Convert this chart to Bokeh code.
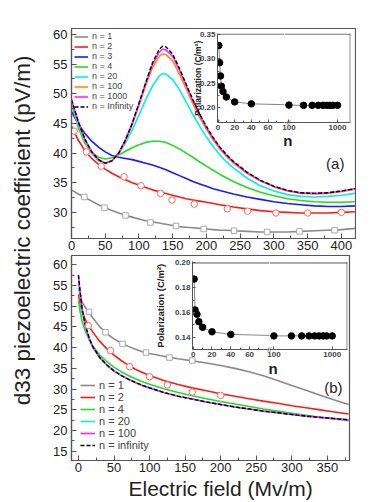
import numpy as np
from bokeh.plotting import figure
from bokeh.layouts import row, column
from bokeh.models import (Range1d, Label, FixedTicker, SingleIntervalTicker,
                          NumeralTickFormatter, Span, Title)
from bokeh.embed import file_html
from bokeh.resources import INLINE

FONT = "Liberation Sans"
AX = "#555555"

# ---------------- panel (a) data ----------------
xa = [0, 10, 20, 30, 40, 50, 60, 70, 80, 90, 100, 110, 120, 130, 135, 140, 150, 160, 170,
      180, 190, 200, 210, 220, 230, 240, 260, 280, 300, 320, 340, 360, 380, 400, 420]
a_n1 = [33.8, 33.1, 32.5, 31.9, 31.3, 30.8, 30.3, 29.9, 29.5, 29.2, 28.9, 28.6, 28.4, 28.2, 28.1,
        28.0, 27.8, 27.6, 27.5, 27.4, 27.3, 27.2, 27.1, 27.0, 27.0, 26.9, 26.8, 26.7, 26.7, 26.7,
        26.8, 26.9, 27.0, 27.1, 27.3]
a_n2 = [44.5, 42.2, 40.4, 39.1, 38.1, 37.3, 36.6, 36.0, 35.5, 35.0, 34.6, 34.2, 33.8, 33.5, 33.3,
        33.2, 32.9, 32.6, 32.3, 32.1, 31.9, 31.7, 31.5, 31.3, 31.1, 30.9, 30.6, 30.3, 30.1, 30.0,
        29.9, 29.9, 29.9, 30.0, 30.1]
a_n3 = [47.0, 44.9, 43.3, 42.0, 41.0, 40.2, 39.6, 39.3, 39.1, 38.9, 38.6, 38.3, 38.0, 37.6, 37.4,
        37.2, 36.7, 36.2, 35.7, 35.2, 34.8, 34.4, 34.0, 33.7, 33.4, 33.1, 32.6, 32.2, 31.8, 31.5,
        31.3, 31.1, 31.0, 31.0, 31.1]
a_n4 = [48.3, 44.3, 41.6, 40.1, 39.3, 39.0, 39.2, 39.7, 40.3, 40.9, 41.4, 41.8, 42.0, 42.0, 41.9,
        41.8, 41.3, 40.7, 40.0, 39.3, 38.5, 37.8, 37.1, 36.4, 35.8, 35.2, 34.2, 33.4, 32.8, 32.3,
        32.0, 31.8, 31.7, 31.7, 31.8]
a_n20 = [48.5, 44.8, 41.9, 39.9, 38.7, 38.3, 38.7, 39.9, 41.7, 43.9, 46.4, 49.0, 51.3, 53.0, 53.4,
         53.3, 52.4, 50.7, 48.6, 46.5, 44.5, 42.7, 41.1, 39.7, 38.5, 37.5, 35.8, 34.5, 33.6, 33.0,
         32.7, 32.6, 32.7, 32.9, 33.2]
a_n100 = [48.8, 45.2, 42.2, 40.1, 38.8, 38.3, 38.7, 40.0, 42.1, 44.8, 48.0, 51.4, 54.4, 56.3, 56.7,
          56.6, 55.5, 53.3, 50.8, 48.3, 46.0, 44.0, 42.2, 40.7, 39.4, 38.3, 36.6, 35.3, 34.3, 33.6,
          33.2, 33.1, 33.2, 33.5, 33.9]
a_n1000 = [49.0, 45.3, 42.3, 40.2, 38.9, 38.3, 38.7, 40.0, 42.2, 45.0, 48.3, 51.7, 54.9, 57.0, 57.5,
           57.4, 56.3, 54.0, 51.4, 48.8, 46.4, 44.3, 42.5, 40.9, 39.6, 38.5, 36.7, 35.4, 34.4, 33.7,
           33.3, 33.2, 33.3, 33.6, 34.0]
a_ninf = [49.0, 45.3, 42.3, 40.2, 38.9, 38.3, 38.7, 40.0, 42.2, 45.0, 48.4, 51.9, 55.2, 57.5, 58.0,
          57.9, 56.7, 54.3, 51.6, 49.0, 46.6, 44.5, 42.6, 41.0, 39.7, 38.6, 36.8, 35.4, 34.4, 33.7,
          33.3, 33.2, 33.3, 33.6, 34.0]
a_sq_x = [19, 49, 80, 117, 155, 196, 241, 290, 338, 390]
a_sq_y = [32.6, 30.8, 29.5, 28.3, 27.7, 27.2, 26.9, 26.7, 26.8, 27.0]
a_ci_x = [4, 22, 44, 78, 103, 132, 149, 182, 231, 261, 303, 350, 400]
a_ci_y = [43.7, 40.2, 37.8, 36.0, 34.5, 33.2, 32.1, 31.4, 30.6, 30.2, 29.9, 29.9, 30.0]

# inset (a)
ia_n = [1, 2, 3, 4, 6, 10, 20, 40, 100, 200, 300, 400, 500, 600, 700, 800, 1000]
ia_p = [0.327, 0.292, 0.265, 0.244, 0.233, 0.222, 0.212, 0.208, 0.2055, 0.205, 0.205, 0.205,
        0.205, 0.205, 0.205, 0.205, 0.205]

# ---------------- panel (b) data ----------------
xb = [0, 2, 5, 10, 15, 20, 30, 40, 50, 60, 70, 80, 90, 100, 120, 140, 160, 180, 200, 220, 240,
      260, 280, 300, 320, 340, 360, 380]
b_n1 = [54.5, 53.0, 51.0, 49.6, 48.4, 47.2, 45.0, 43.4, 42.1, 41.1, 40.3, 39.6, 39.0, 38.6, 37.9,
        37.3, 36.8, 36.3, 35.7, 35.0, 34.2, 33.2, 32.1, 30.9, 29.7, 28.5, 27.4, 26.3]
b_n2 = [52.8, 50.8, 48.8, 46.6, 45.1, 43.8, 41.5, 39.7, 38.2, 36.9, 35.8, 34.8, 34.0, 33.3, 32.1,
        31.1, 30.3, 29.6, 28.9, 28.3, 27.7, 27.1, 26.6, 26.0, 25.5, 25.0, 24.5, 24.0]
b_n4 = [51.3, 49.0, 46.5, 43.8, 41.9, 40.4, 38.2, 36.6, 35.3, 34.2, 33.3, 32.5, 31.8, 31.2, 30.1,
        29.2, 28.4, 27.7, 27.0, 26.4, 25.8, 25.2, 24.7, 24.2, 23.7, 23.2, 22.8, 22.4]
b_n20 = [56.0, 53.0, 48.8, 44.8, 42.1, 40.1, 37.5, 35.8, 34.4, 33.3, 32.4, 31.6, 30.9, 30.3, 29.2,
         28.3, 27.6, 26.9, 26.3, 25.7, 25.2, 24.7, 24.3, 23.9, 23.5, 23.2, 22.9, 22.6]
b_n100 = [57.2, 53.8, 49.4, 45.1, 42.3, 40.2, 37.6, 35.8, 34.4, 33.3, 32.4, 31.6, 30.9, 30.3, 29.2,
          28.3, 27.6, 26.9, 26.3, 25.7, 25.2, 24.7, 24.3, 23.9, 23.5, 23.2, 22.9, 22.6]
b_ninf = [57.5, 54.0, 49.5, 45.2, 42.4, 40.3, 37.6, 35.8, 34.4, 33.3, 32.4, 31.6, 30.9, 30.3, 29.2,
          28.3, 27.6, 26.9, 26.3, 25.7, 25.2, 24.7, 24.3, 23.9, 23.5, 23.2, 22.9, 22.6]
b_sq_x = [15, 38, 62, 95, 128, 160]
b_sq_y = [48.6, 43.7, 40.9, 38.8, 37.6, 36.9]
b_ci_x = [14, 45, 72, 100, 125, 160, 200]
b_ci_y = [45.3, 39.3, 35.4, 33.0, 31.0, 29.3, 28.5]

# inset (b)
ib_n = [1, 2, 4, 6, 10, 20, 40, 100, 200, 300, 400, 500, 600, 700, 800, 1000]
ib_p = [0.187, 0.162, 0.1585, 0.1525, 0.148, 0.1443, 0.1422, 0.141, 0.141, 0.141, 0.141, 0.141,
        0.141, 0.141, 0.141, 0.141]

GRAY, RED, BLUE, GREEN = "#8a8a8a", "#ff1a1a", "#1a1aff", "#22dd22"
CYAN, ORANGE, MAGENTA = "#00f0f0", "#ff8c1a", "#ff22ff"


def main_fig(xr, yr, fw, fh, mbl, mbr, mbt, mbb):
    p = figure(x_range=Range1d(*xr), y_range=Range1d(*yr), frame_width=fw, frame_height=fh,
               min_border_left=mbl, min_border_right=mbr, min_border_top=mbt,
               min_border_bottom=mbb, output_backend="svg", toolbar_location=None)
    p.grid.visible = False
    p.outline_line_color = AX
    p.outline_line_width = 1.2
    p.border_fill_color = None
    for ax in (p.xaxis[0], p.yaxis[0]):
        ax.major_tick_in = 5
        ax.major_tick_out = 0
        ax.minor_tick_in = 3
        ax.minor_tick_out = 0
        ax.axis_line_color = AX
        ax.axis_line_width = 1.2
        ax.major_tick_line_color = AX
        ax.minor_tick_line_color = AX
        ax.major_label_text_font = FONT
        ax.major_label_text_font_size = "13px"
        ax.major_label_text_color = "#222222"
        ax.major_label_standoff = 2
    p.yaxis[0].major_label_standoff = 4
    return p


def style_legend(p, loc, fs, lh, gw, mg, pd):
    lg = p.legend[0]
    lg.location = loc
    lg.background_fill_alpha = 0
    lg.border_line_alpha = 0
    lg.label_text_font = FONT
    lg.label_text_font_size = fs
    lg.label_height = lh
    lg.glyph_height = lh
    lg.glyph_width = gw
    lg.spacing = 0
    lg.margin = mg
    lg.padding = pd
    lg.label_standoff = 4


def txt(p, x, y, s, size, bold=False, angle=0.0, color="#222222"):
    p.add_layout(Label(x=x, y=y, text=s, angle=angle, text_align="center",
                       text_baseline="middle", text_font=FONT, text_font_size=size,
                       text_font_style="bold" if bold else "normal", text_color=color))


def inset(lin_xr, log_xr, yr, yticks, yminor, lin_w, log_w, fh, mbl, n, P):
    ry = Range1d(*yr)
    common = dict(y_range=ry, frame_height=fh, min_border_top=3, min_border_bottom=14,
                  output_backend="svg", toolbar_location=None)
    a = figure(x_range=Range1d(*lin_xr), frame_width=lin_w, min_border_left=mbl,
               min_border_right=0, **common)
    b = figure(x_range=Range1d(*log_xr), x_axis_type="log", frame_width=log_w,
               min_border_left=6, min_border_right=2, y_axis_location=None, **common)
    for f in (a, b):
        f.background_fill_alpha = 0
        f.border_fill_alpha = 0
        f.outline_line_color = None
        f.grid.visible = False
        f.line(n, P, line_color="#777777", line_width=0.9)
        f.scatter(n, P, size=6.5, color="black")
        f.add_layout(Span(location=yr[1] - 0.0012, dimension="width", line_color=AX, line_width=1))
        xa_ = f.xaxis[0]
        xa_.major_tick_in = 3
        xa_.major_tick_out = 0
        xa_.minor_tick_in = 2
        xa_.minor_tick_out = 0
        xa_.axis_line_color = AX
        xa_.major_tick_line_color = AX
        xa_.minor_tick_line_color = AX
        xa_.major_label_text_font = FONT
        xa_.major_label_text_font_style = "bold"
        xa_.major_label_text_font_size = "8px"
        xa_.major_label_standoff = 2
    a.xaxis.ticker = FixedTicker(ticks=[0, 20, 40, 60], minor_ticks=[10, 30, 50, 70])
    b.xaxis.ticker = FixedTicker(ticks=[100, 1000], minor_ticks=[])
    b.xaxis.major_label_overrides = {100: "100", 1000: "1000"}
    b.add_layout(Span(location=log_xr[1] * 0.985, dimension="height", line_color=AX, line_width=1))
    ya = a.yaxis[0]
    ya.ticker = FixedTicker(ticks=yticks, minor_ticks=yminor)
    ya.formatter = NumeralTickFormatter(format="0.00")
    ya.major_tick_in = 3
    ya.major_tick_out = 0
    ya.minor_tick_in = 2
    ya.minor_tick_out = 0
    ya.axis_line_color = AX
    ya.major_tick_line_color = AX
    ya.minor_tick_line_color = AX
    ya.major_label_text_font = FONT
    ya.major_label_text_font_style = "bold"
    ya.major_label_text_font_size = "8px"
    ya.major_label_standoff = 2
    b.margin = (0, 0, 0, -6)
    return a, b


# ---------------- panel (a) ----------------
pa = main_fig((0, 421), (25.6, 61.0), 284, 210, 31, 5, 28, 16)
pa.xaxis.ticker = SingleIntervalTicker(interval=50, num_minor_ticks=2)
pa.yaxis.ticker = SingleIntervalTicker(interval=5, num_minor_ticks=2)
pa.line(xa, a_n1, line_color=GRAY, line_width=1.6, legend_label="n = 1")
pa.line(xa, a_n2, line_color=RED, line_width=1.6, legend_label="n = 2")
pa.line(xa, a_n3, line_color=BLUE, line_width=1.6, legend_label="n = 3")
pa.line(xa, a_n4, line_color=GREEN, line_width=1.6, legend_label="n = 4")
pa.line(xa, a_n20, line_color=CYAN, line_width=1.6, legend_label="n = 20")
pa.line(xa, a_n100, line_color=ORANGE, line_width=1.6, legend_label="n = 100")
pa.line(xa, a_n1000, line_color=MAGENTA, line_width=1.6, legend_label="n = 1000")
pa.line(xa, a_ninf, line_color="black", line_width=1.4, line_dash="4 2", legend_label="n = Infinity")
pa.scatter(a_sq_x, a_sq_y, marker="square", size=5.5, line_color="#aaaaaa", fill_color="white", line_width=1)
pa.scatter(a_ci_x, a_ci_y, marker="circle", size=6.5, line_color="#ff6666", fill_color="white", line_width=1)
style_legend(pa, "top_left", "9px", 9, 14, 1, 2)
txt(pa, 391, 38.2, "(a)", "15px")
txt(pa, 320.7, 42.1, "n", "15px", bold=True)
txt(pa, 321.5, 45.2, "//", "7px", color="#555555")
txt(pa, 188.1, 52.6, "Polarization (C/m²)", "8.5px", bold=True, angle=np.pi / 2)

# ---------------- panel (b) ----------------
pb = main_fig((-9.8, 381.2), (12.8, 62.2), 278, 205, 35, 7, 1, 40)
pb.xaxis.ticker = SingleIntervalTicker(interval=50, num_minor_ticks=2)
pb.yaxis.ticker = SingleIntervalTicker(interval=5, num_minor_ticks=2)
pb.line(xb, b_n1, line_color=GRAY, line_width=1.6, legend_label="n = 1")
pb.line(xb, b_n2, line_color=RED, line_width=1.6, legend_label="n = 2")
pb.line(xb, b_n4, line_color=GREEN, line_width=1.6, legend_label="n = 4")
pb.line(xb, b_n20, line_color=CYAN, line_width=1.6, legend_label="n = 20")
pb.line(xb, b_n100, line_color=MAGENTA, line_width=1.6, legend_label="n = 100")
pb.line(xb, b_ninf, line_color="black", line_width=1.4, line_dash="4 2", legend_label="n = infinity")
pb.scatter(b_sq_x, b_sq_y, marker="square", size=5.5, line_color="#aaaaaa", fill_color="white", line_width=1)
pb.scatter(b_ci_x, b_ci_y, marker="circle", size=6.5, line_color="#ff6666", fill_color="white", line_width=1)
style_legend(pb, "bottom_left", "11px", 12, 15, 5, 4)
txt(pb, 358.6, 30.5, "(b)", "15px")
txt(pb, 273.8, 34.9, "n", "15px", bold=True)
txt(pb, 268.6, 39.5, "//", "7px", color="#555555")
txt(pb, 115.3, 50.1, "Polarization (C/m²)", "9.5px", bold=True, angle=np.pi / 2)
xtitle = Title(text="Electric field (Mv/m)", align="left", offset=57, standoff=0,
               text_font=FONT, text_font_size="21px", text_font_style="normal",
               text_color="#222222")
pb.add_layout(xtitle, "below")

# ---------------- insets ----------------
ia_lin, ia_log = inset((-0.6, 79.8), (81, 1850), (0.17, 0.3515), [0.20, 0.25, 0.30, 0.35],
                       [0.175, 0.225, 0.275, 0.325], 67, 66, 89, 26, ia_n, ia_p)
ib_lin, ib_log = inset((-0.74, 81.2), (84, 1830), (0.13, 0.2012), [0.14, 0.16, 0.18, 0.20],
                       [0.13, 0.15, 0.17, 0.19], 77, 78, 88, 26, ib_n, ib_p)

inset_a = row(ia_lin, ia_log, margin=(-224, 0, 118, 155))
inset_b = row(ib_lin, ib_log, margin=(-242, 0, 137, 130))

# ---------------- shared y label ----------------
pl = figure(frame_width=36, frame_height=500, min_border=0, x_range=Range1d(0, 36),
            y_range=Range1d(0, 500), output_backend="svg", toolbar_location=None,
            x_axis_location=None, y_axis_location=None)
pl.outline_line_color = None
pl.grid.visible = False
pl.border_fill_color = None
txt(pl, 22, 270, "d33 piezoelectric coefficient (pV/m)", "22.5px", angle=np.pi / 2)

layout = row(pl, column(pa, inset_a, pb, inset_b))

open("out.html", "w").write(file_html(layout, INLINE))
